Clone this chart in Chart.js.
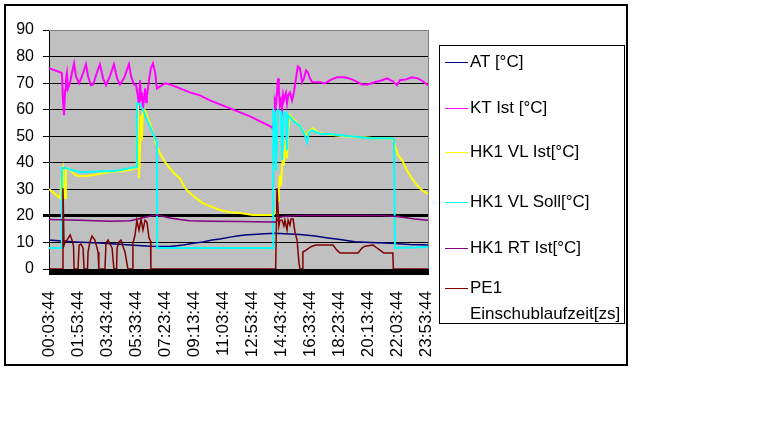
<!DOCTYPE html>
<html>
<head>
<meta charset="utf-8">
<script src="https://cdn.jsdelivr.net/npm/chart.js@4.4.1/dist/chart.umd.min.js"></script>
<style>
body{margin:0;background:#fff;}
#wrap{position:relative;width:782px;height:446px;}
#frame{position:absolute;left:4px;top:4px;width:620px;height:358px;border:2px solid #000;pointer-events:none;}
#legend{position:absolute;left:439px;top:45px;width:184px;height:277px;border:1px solid #000;background:#fff;
  font:17px "Liberation Sans",Arial,sans-serif;color:#000;}
.item{position:absolute;left:5px;width:179px;line-height:26px;}
.item .sample{position:absolute;left:0;top:13px;width:23px;height:1px;}
.item .text{display:block;margin-left:25px;}
</style>
</head>
<body>
<div id="wrap">
  <canvas id="myChart" width="782" height="446"></canvas>
  <div id="frame"></div>
  <div id="legend"></div>
</div>
<script>
// x = minutes after 00:03:44
const tickMinutes = [0, 110, 220, 330, 440, 550, 660, 770, 880, 990, 1100, 1210, 1320, 1430];
const tickLabels = ["00:03:44", "01:53:44", "03:43:44", "05:33:44", "07:23:44", "09:13:44", "11:03:44",
	"12:53:44", "14:43:44", "16:33:44", "18:23:44", "20:13:44", "22:03:44", "23:53:44"];

const atValues = [[0,10.9],[49,10.5],[99,10.2],[193,9.8],[307,9],[383,8.6],[458,8.5],[508,9],[553,9.8],
	[583,10.2],[618,10.9],[648,11.3],[686,12],[712,12.4],[743,12.8],[773,13],[818,13.3],[856,13.5],[894,13.3],
	[951,13],[1008,12.4],[1057,11.7],[1103,11.1],[1159,10.3],[1216,10],[1273,9.8],[1311,9.6],[1368,9.2],[1436,9]];

const ktValues = [[0,75.6],[23,74.8],[42,74.1],[49,73.7],[53,63.5],[57,57.9],[61,67.3],[64,71.1],[68,73.7],
	[72,68],[80,70.3],[87,74],[95,77.4],[102,72.6],[114,69.9],[125,72.6],[140,77.1],[148,72.6],[159,69.2],
	[167,69.5],[182,74.1],[193,77.1],[205,71.8],[216,69.2],[231,72.6],[246,77.1],[258,71.8],[269,69.5],
	[284,71.8],[303,77.1],[311,72.6],[322,69.5],[330,69.2],[337,65],[341,60.5],[345,71.1],[349,63.5],
	[352,66.5],[356,60.5],[360,64.3],[364,68],[368,62.8],[371,65],[379,71.1],[386,75.6],[394,77.4],
	[402,74.1],[409,68],[421,68.8],[440,69.9],[458,69.5],[496,68],[534,66.5],[572,65.4],[610,63.5],
	[648,62],[686,60.5],[724,59],[762,57.5],[800,55.6],[837,53.8],[849,53],[853,56.8],[856,63.5],[860,62],
	[864,66.5],[868,71.8],[871,67.3],[875,61.7],[879,63.5],[883,60.5],[887,65.4],[890,63.5],[898,66.2],
	[902,62.4],[906,65.4],[913,66.5],[921,63.5],[928,66.5],[936,71.8],[943,76.3],[951,75.6],[959,70.3],
	[966,71.8],[974,74.8],[981,74.1],[989,71.8],[997,70.3],[1008,70.3],[1027,70.3],[1046,69.9],[1065,71.1],
	[1091,72.2],[1122,72.2],[1148,71.4],[1171,70.3],[1186,69.5],[1209,69.5],[1235,70.3],[1262,71.1],
	[1281,71.8],[1303,70.7],[1319,69.2],[1330,71.1],[1353,71.4],[1375,72.2],[1398,71.8],[1417,70.7],[1436,69.2]];

const vlIstValues = [[0,30.1],[23,28.2],[42,26.7],[45,26.7],[49,36.5],[53,38],[57,29.7],[61,26.7],[64,37.2],
	[72,38],[87,36.5],[102,35.3],[117,35],[140,35],[163,35.3],[186,35.7],[208,36.1],[231,36.5],[254,36.8],
	[277,36.8],[299,37.2],[318,37.6],[330,38],[333,48.5],[337,62],[341,34.2],[345,44.7],[349,57.9],
	[352,48.5],[356,59.8],[364,59.8],[375,56.8],[386,53.8],[398,50],[409,46.2],[421,43.6],[440,40.2],
	[458,38],[477,35.7],[496,34.2],[515,30.5],[534,28.6],[557,26.7],[583,24.8],[610,23.7],[648,22.2],
	[686,21.4],[724,21.1],[773,20.3],[837,20.3],[849,20.3],[860,21.4],[868,25.9],[871,30.5],[875,35.3],
	[879,31.2],[887,44.7],[890,39.1],[898,48.5],[902,41.7],[906,52.3],[913,57.9],[921,56.8],[932,56],
	[943,54.5],[951,53.8],[962,52.3],[974,50.4],[985,51.9],[1000,53],[1019,51.5],[1046,50.8],[1084,50.4],
	[1122,50],[1159,49.6],[1197,49.6],[1235,49.2],[1273,49.2],[1292,49.2],[1303,48.9],[1311,46.6],
	[1322,42.9],[1338,41],[1349,38.7],[1360,36.5],[1375,34.2],[1394,31.6],[1413,29.7],[1436,28.2]];

const vlSollValues = [[0,7.9],[48,7.9],[49,38],[64,38],[87,37.2],[117,36.5],[155,36.5],[193,36.8],
	[231,36.8],[269,37.2],[307,38],[330,38.3],[333,62.4],[345,62],[360,59],[375,55.3],[390,51.9],
	[406,48.5],[409,47.4],[410,7.9],[849,7.9],[850,59.8],[856,59],[860,37.2],[868,59.8],[879,59],
	[883,41],[890,59],[898,59],[902,44.7],[906,57.9],[917,56.8],[932,55.3],[951,53.8],[970,50.4],
	[978,47.7],[985,51.5],[997,52.3],[1012,51.5],[1034,50.8],[1065,50.8],[1103,50.4],[1140,50],
	[1178,49.6],[1216,49.2],[1254,49.2],[1292,49.2],[1307,48.9],[1311,7.9],[1436,8.3]];

const rtValues = [[0,18.6],[117,18.4],[231,18],[307,18.2],[337,18.8],[364,19.5],[383,19.9],[409,20.3],
	[432,19.9],[458,19.2],[496,18.6],[534,18.2],[610,18],[724,17.9],[837,17.7],[860,17.7],[875,19.5],
	[894,19.9],[951,20.1],[1103,20.1],[1254,20.1],[1311,19.9],[1349,19.4],[1387,18.8],[1436,18.4]];

const peValues = [[0,0],[51,0],[53,30.4],[57,9],[61,10.2],[68,10.9],[80,12.8],[87,10.9],[93,8.6],[95,0],
	[110,0],[114,9],[121,9.4],[129,7.9],[133,0],[146,0],[148,6.4],[155,10.2],[163,12.4],[174,10.9],
	[186,6.4],[189,0],[212,0],[216,9.8],[224,10.9],[231,9.4],[239,7.9],[246,0],[256,0],[258,7.9],
	[265,10.2],[273,10.9],[280,8.6],[288,6.4],[299,0],[316,0],[318,9.8],[326,12.8],[333,18.4],[341,14.7],
	[349,18.8],[356,14.7],[364,18.4],[371,17.7],[379,11.7],[385,10.5],[386,0],[859,0],[864,30.4],
	[871,16.2],[875,18.4],[883,18.4],[890,16.2],[894,18.4],[902,14.7],[906,18.4],[913,16.5],[917,18.8],
	[925,18.8],[932,13.9],[940,10.9],[947,2.6],[951,0],[959,0],[962,6.4],[974,7.1],[985,7.9],[997,8.6],
	[1012,9],[1046,9],[1076,9],[1091,7.1],[1103,6],[1171,6],[1186,7.9],[1197,8.6],[1228,9],[1243,7.9],
	[1258,6.8],[1269,6],[1303,6],[1305,0],[1436,0]];

Chart.defaults.font.family = '"Liberation Sans", Arial, sans-serif';
Chart.defaults.color = "#000";

function lineSet(label, data, color, width, order){
	return {
		label: label,
		data: data,
		borderColor: color,
		backgroundColor: color,
		borderWidth: width,
		pointRadius: 0,
		tension: 0,
		fill: false,
		order: order
	};
}

const plotArea = {
	id: "plotArea",
	beforeDraw(chart){
		const ctx = chart.ctx;
		const a = chart.chartArea;
		ctx.save();
		ctx.fillStyle = "#c0c0c0";
		ctx.fillRect(a.left, a.top, a.right - a.left, a.bottom - a.top);
		ctx.restore();
	},
	afterDraw(chart){
		const ctx = chart.ctx;
		const a = chart.chartArea;
		ctx.save();
		ctx.strokeStyle = "#808080";
		ctx.lineWidth = 1;
		ctx.beginPath();
		ctx.moveTo(a.left, a.top + 0.5);
		ctx.lineTo(a.right - 0.5, a.top + 0.5);
		ctx.lineTo(a.right - 0.5, a.bottom);
		ctx.stroke();
		// dense category tick marks under the axis
		ctx.fillStyle = "#000";
		ctx.fillRect(a.left, a.bottom, a.right - a.left, 6);
		ctx.restore();
	}
};

const ctx = document.getElementById("myChart").getContext("2d");
const chart = new Chart(ctx, {
	type: "line",
	data: {
		datasets: [
			lineSet("AT [°C]", atValues, "#000080", 1.5, 6),
			lineSet("KT Ist [°C]", ktValues, "#ff00ff", 2, 5),
			lineSet("HK1 VL Ist[°C]", vlIstValues, "#ffff00", 2, 4),
			lineSet("HK1 VL Soll[°C]", vlSollValues, "#00ffff", 2, 3),
			lineSet("HK1 RT Ist[°C]", rtValues, "#800080", 1.5, 2),
			lineSet("PE1 Einschublaufzeit[zs]", peValues, "#800000", 1.5, 1)
		]
	},
	options: {
		responsive: false,
		animation: false,
		layout: {padding: {left: 0, top: 30, right: 353, bottom: 0}},
		plugins: {legend: {display: false}, tooltip: {enabled: false}},
		scales: {
			x: {
				type: "linear",
				min: 0,
				max: 1440,
				afterBuildTicks: function(axis){
					axis.ticks = tickMinutes.map(v => ({value: v}));
				},
				afterFit: function(s){ s.height = 177; },
				grid: {display: false},
				border: {display: false},
				ticks: {
					autoSkip: false,
					minRotation: 90,
					maxRotation: 90,
					padding: 14,
					font: {size: 17},
					callback: function(v, i){ return tickLabels[i]; }
				}
			},
			y: {
				min: 0,
				max: 90,
				afterFit: function(s){ s.width = 49; },
				ticks: {stepSize: 10, padding: 9, font: {size: 16}},
				grid: {
					color: c => c.tick && c.tick.value === 90 ? "#808080" : "#000",
					tickColor: "#000",
					lineWidth: c => c.tick && c.tick.value === 20 ? 3 : 1,
					tickLength: 6
				},
				border: {color: "#000", width: 1}
			}
		}
	},
	plugins: [plotArea]
});

// legend box on the right
const legendTops = [3, 49, 93, 143, 189, 229];
const legendEl = document.getElementById("legend");
chart.data.datasets.forEach(function(ds, i){
	const item = document.createElement("div");
	item.className = "item";
	item.style.top = legendTops[i] + "px";
	const sample = document.createElement("span");
	sample.className = "sample";
	sample.style.background = ds.borderColor;
	const text = document.createElement("span");
	text.className = "text";
	text.textContent = ds.label;
	item.appendChild(sample);
	item.appendChild(text);
	legendEl.appendChild(item);
});
</script>
</body>
</html>
